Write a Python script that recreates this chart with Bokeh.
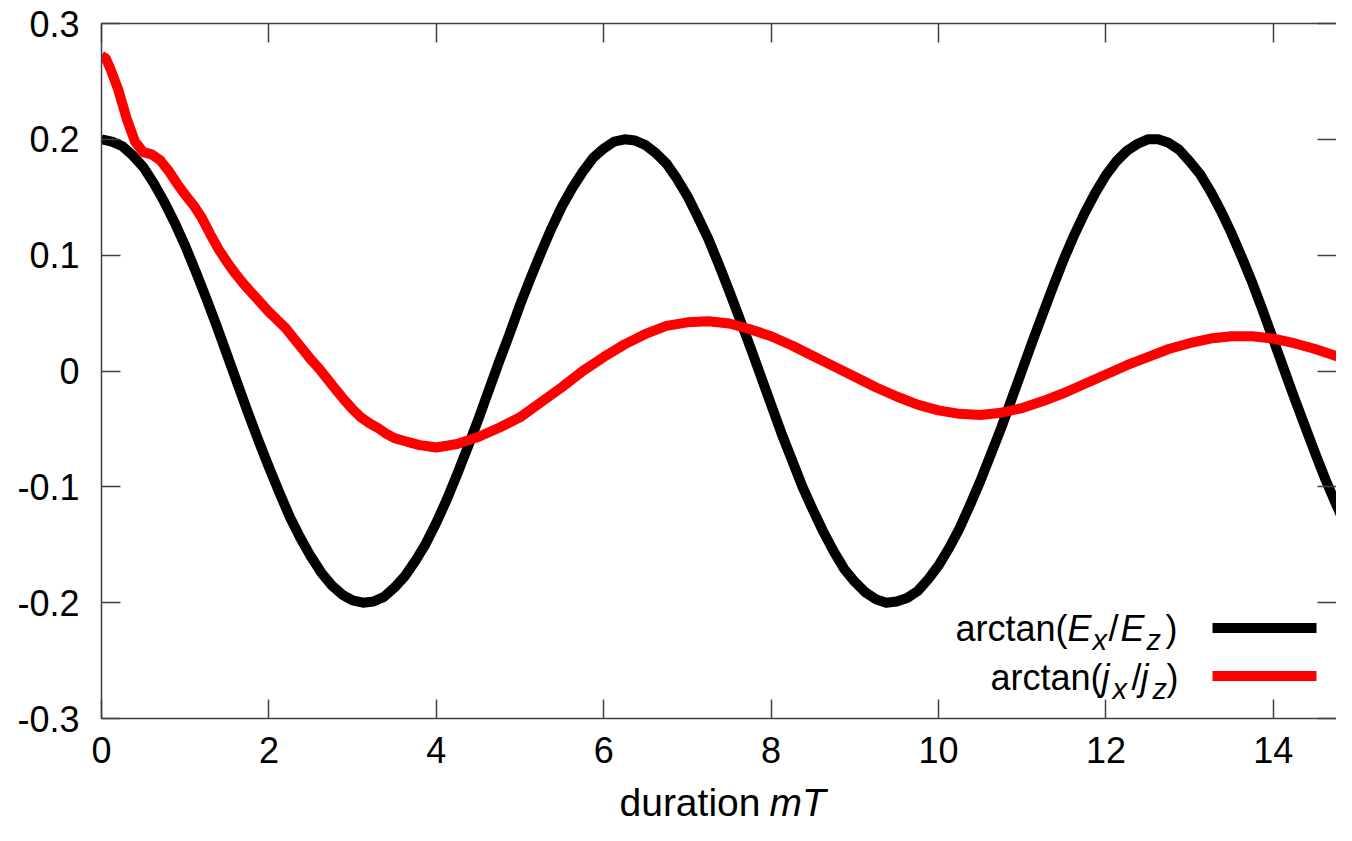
from bokeh.plotting import figure
from bokeh.layouts import column
from bokeh.models import (Range1d, FixedTicker, NumeralTickFormatter, LinearAxis, Label)
from bokeh.embed import file_html
from bokeh.resources import INLINE

# ---------------- data ----------------
x_black = [0, 0.125, 0.25, 0.375, 0.5, 0.625, 0.75, 0.875, 1.0, 1.125, 1.25, 1.375, 1.5, 1.625,
           1.75, 1.875, 2.0, 2.125, 2.25, 2.375, 2.5, 2.625, 2.75, 2.875, 3.0, 3.125, 3.25, 3.375,
           3.5, 3.625, 3.75, 3.875, 4.0, 4.125, 4.25, 4.375, 4.5, 4.625, 4.75, 4.875, 5.0, 5.125,
           5.25, 5.375, 5.5, 5.625, 5.75, 5.875, 6.0, 6.125, 6.25, 6.375, 6.5, 6.625, 6.75, 6.875,
           7.0, 7.125, 7.25, 7.375, 7.5, 7.625, 7.75, 7.875, 8.0, 8.125, 8.25, 8.375, 8.5, 8.625,
           8.75, 8.875, 9.0, 9.125, 9.25, 9.375, 9.5, 9.625, 9.75, 9.875, 10.0, 10.125, 10.25,
           10.375, 10.5, 10.625, 10.75, 10.875, 11.0, 11.125, 11.25, 11.375, 11.5, 11.625, 11.75,
           11.875, 12.0, 12.125, 12.25, 12.375, 12.5, 12.625, 12.75, 12.875, 13.0, 13.125, 13.25,
           13.375, 13.5, 13.625, 13.75, 13.875, 14.0, 14.125, 14.25, 14.375, 14.5, 14.625, 14.75,
           14.875, 15.0]
y_black = [0.200, 0.198, 0.194, 0.186, 0.176, 0.162, 0.146, 0.128, 0.108, 0.086, 0.063, 0.039,
           0.014, -0.011, -0.036, -0.060, -0.083, -0.105, -0.126, -0.144, -0.160, -0.174, -0.185,
           -0.193, -0.198, -0.200, -0.199, -0.195, -0.187, -0.177, -0.164, -0.149, -0.131, -0.111,
           -0.089, -0.066, -0.042, -0.017, 0.008, 0.032, 0.057, 0.080, 0.102, 0.123, 0.142, 0.158,
           0.172, 0.184, 0.192, 0.198, 0.200, 0.199, 0.195, 0.188, 0.179, 0.166, 0.151, 0.133,
           0.114, 0.092, 0.069, 0.045, 0.021, -0.004, -0.029, -0.054, -0.077, -0.100, -0.120,
           -0.139, -0.156, -0.171, -0.182, -0.191, -0.197, -0.200, -0.199, -0.196, -0.190, -0.180,
           -0.168, -0.153, -0.136, -0.116, -0.095, -0.072, -0.049, -0.024, 0.001, 0.026, 0.050,
           0.074, 0.097, 0.118, 0.137, 0.154, 0.169, 0.181, 0.190, 0.196, 0.200, 0.200, 0.197,
           0.191, 0.181, 0.170, 0.155, 0.138, 0.119, 0.098, 0.076, 0.052, 0.027, 0.002, -0.023,
           -0.047, -0.071, -0.094, -0.115, -0.135, -0.152]

x_red = [0, 0.05, 0.1, 0.2, 0.3, 0.4, 0.5, 0.6, 0.7, 0.8, 0.9, 1.0, 1.1, 1.2, 1.3, 1.4, 1.5, 1.6,
         1.7, 1.8, 1.9, 2.0, 2.1, 2.2, 2.3, 2.4, 2.5, 2.6, 2.7, 2.8, 2.9, 3.0, 3.1, 3.2, 3.3, 3.4,
         3.5, 3.6, 3.7, 3.8, 3.9, 4.0, 4.25, 4.5, 4.75, 5.0, 5.25, 5.5, 5.75, 6.0, 6.25, 6.5, 6.75,
         7.0, 7.25, 7.5, 7.75, 8.0, 8.25, 8.5, 8.75, 9.0, 9.25, 9.5, 9.75, 10.0, 10.25, 10.5, 10.75,
         11.0, 11.25, 11.5, 11.75, 12.0, 12.25, 12.5, 12.75, 13.0, 13.25, 13.5, 13.75, 14.0, 14.25,
         14.5, 14.75, 15.0]
y_red = [0.272, 0.270, 0.262, 0.243, 0.218, 0.198, 0.189, 0.187, 0.182, 0.173, 0.162, 0.152, 0.143,
         0.132, 0.118, 0.105, 0.094, 0.084, 0.075, 0.067, 0.059, 0.051, 0.044, 0.037, 0.028, 0.019,
         0.010, 0.002, -0.007, -0.016, -0.025, -0.033, -0.040, -0.045, -0.049, -0.054, -0.058,
         -0.060, -0.062, -0.064, -0.065, -0.066, -0.063, -0.057, -0.049, -0.040, -0.027, -0.014,
         0.000, 0.012, 0.023, 0.032, 0.039, 0.042, 0.043, 0.041, 0.036, 0.030, 0.022, 0.013, 0.004,
         -0.005, -0.014, -0.022, -0.029, -0.034, -0.037, -0.038, -0.036, -0.032, -0.026, -0.019,
         -0.011, -0.003, 0.005, 0.012, 0.019, 0.024, 0.028, 0.030, 0.030, 0.028, 0.024, 0.019,
         0.013, 0.006]

x_ticks = [0, 2, 4, 6, 8, 10, 12, 14]
y_ticks = [-0.3, -0.2, -0.1, 0, 0.1, 0.2, 0.3]

# ---------------- layout constants ----------------
FONT = "Liberation Sans"
W = 1336
LEFT, TOP, BOTTOM = 101, 23, 63
H_MAIN = 781
H_TITLE = 825 - H_MAIN              # 44
PXU = 83.7                          # pixels per x unit (as in the reference)
FW = W - LEFT
X0, X1 = 0, FW / PXU
Y0, Y1 = -0.3, 0.3
AX_COL = "#404040"

p = figure(width=W, height=H_MAIN,
           x_range=Range1d(X0, X1), y_range=Range1d(Y0, Y1),
           output_backend="svg", toolbar_location=None,
           min_border_left=LEFT, min_border_top=TOP, min_border_bottom=BOTTOM, min_border_right=0,
           x_axis_location=None, y_axis_location=None)
p.outline_line_color = None
p.grid.visible = False
p.background_fill_color = "white"
p.border_fill_color = "white"


def style_axis(ax, ticks, labels=True, line=True):
    ax.ticker = FixedTicker(ticks=ticks)
    ax.major_tick_in = 19
    ax.major_tick_out = 0
    ax.minor_tick_line_color = None
    ax.major_tick_line_color = AX_COL
    ax.major_tick_line_width = 1.5
    ax.axis_line_color = AX_COL if line else None
    ax.axis_line_width = 1.5
    ax.axis_label_standoff = 0
    if labels:
        ax.major_label_text_font = FONT
        ax.major_label_text_font_size = "36px"
        ax.major_label_text_color = "black"
    else:
        ax.major_label_text_font_size = "0px"
        ax.major_label_text_color = None
        ax.major_label_standoff = 0


xb = LinearAxis()
style_axis(xb, x_ticks)
xb.major_label_standoff = 18
p.add_layout(xb, "below")

yl = LinearAxis(formatter=NumeralTickFormatter(format="0.[0]"))
style_axis(yl, y_ticks)
yl.major_label_standoff = 22
p.add_layout(yl, "left")

xt = LinearAxis()
style_axis(xt, x_ticks, labels=False)
p.add_layout(xt, "above")

yr = LinearAxis()
style_axis(yr, y_ticks, labels=False, line=False)
p.add_layout(yr, "right")

# curves
p.line(x_black, y_black, line_color="black", line_width=10, line_join="round")
p.line(x_red, y_red, line_color="#ff0000", line_width=10, line_join="round")


# ---------------- legend (manual, gnuplot style) ----------------
def rx(px):   # reference-picture pixel -> data x
    return (px - 101) / PXU


def ry(py):   # reference-picture pixel -> data y
    return (374 - py) / 1170.0


p.line([rx(1212), rx(1316)], [ry(633.5)] * 2, line_color="black", line_width=10)
p.line([rx(1212), rx(1316)], [ry(682)] * 2, line_color="#ff0000", line_width=10)

LF, SF = 36, 29
MID = 0.35      # text-box centre sits this many font sizes above the baseline


def piece(fig, text, x, y, italic=False, size=LF):
    fig.add_layout(Label(x=x, y=y, text=text, text_font=FONT, text_font_size=f"{size}px",
                         text_font_style="italic" if italic else "normal",
                         text_baseline="middle", text_align="left", text_color="black"))


def leg(text, px, base, italic=False, size=LF):
    piece(p, text, rx(px), ry(base - MID * size), italic, size)


b1, b2, sub = 646.5, 696, 9
leg("arctan(", 955, b1)
leg("E", 1067, b1, True)
leg("x", 1092, b1 + sub, True, SF)
leg("/", 1108, b1)
leg("E", 1120, b1, True)
leg("z", 1146, b1 + sub, True, SF)
leg(")", 1165, b1)

leg("arctan(", 990, b2)
leg("j", 1101, b2, True)
leg("x", 1112, b2 + sub, True, SF)
leg("/", 1131, b2)
leg("j", 1140, b2, True)
leg("z", 1152, b2 + sub, True, SF)
leg(")", 1166, b2)

# ---------------- x-axis title "duration mT" (strip below the plot, same frame columns) ----------------
t = figure(width=W, height=H_TITLE,
           x_range=p.x_range, y_range=Range1d(0, H_TITLE),
           output_backend="svg", toolbar_location=None,
           min_border_left=LEFT, min_border_right=0, min_border_top=0, min_border_bottom=0,
           x_axis_location=None, y_axis_location=None)
t.outline_line_color = None
t.grid.visible = False
t.background_fill_color = "white"
t.border_fill_color = "white"
XL = 39
XL_BASE = 35                                   # baseline, pixels below the strip's top
XL_Y = H_TITLE - (XL_BASE - MID * XL)
piece(t, "duration", rx(619), XL_Y, size=XL)
piece(t, "mT", rx(769), XL_Y, True, size=XL)

layout = column(p, t, spacing=0)
open("out.html", "w").write(file_html(layout, INLINE))
